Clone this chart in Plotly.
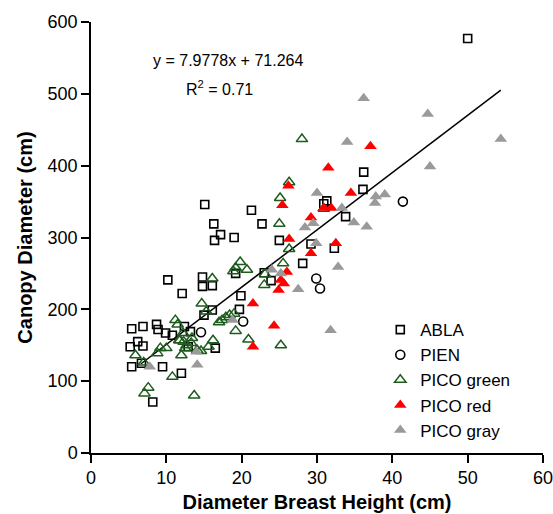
import plotly.graph_objects as go

# values
abla_x = [50.0, 36.2, 36.1, 30.9, 31.3, 33.8, 32.3, 29.2, 28.1, 25.0, 23.9, 23.0, 22.7, 21.3,
          19.9, 19.7, 19.0, 19.2, 17.2, 16.4, 16.3, 15.1, 14.8, 14.8, 16.1, 16.1, 15.0, 16.5,
          12.1, 10.2, 12.4, 13.2, 12.9, 10.8, 9.9, 8.7, 8.9, 6.9, 5.4, 6.2, 6.9, 5.2, 5.4,
          9.5, 6.7, 12.0, 8.2]
abla_y = [577, 391, 367, 347, 351, 329, 285, 291, 264, 296, 240, 251, 319, 338,
          219, 200, 300, 250, 304, 296, 319, 346, 245, 232, 233, 199, 192, 146,
          222, 241, 176, 169, 148, 164, 167, 179, 172, 176, 173, 155, 149, 148, 120,
          120, 125, 111, 71]

pien_x = [14.6, 20.2, 29.9, 30.4, 41.4]
pien_y = [168, 183, 243, 229, 350]

green_x = [28.0, 26.3, 25.1, 25.0, 26.3, 25.5, 30.9, 25.2, 20.9, 19.2, 19.8, 20.7, 19.2, 18.9,
           23.0, 23.1, 16.1, 14.7, 15.3, 17.0, 17.4, 17.9, 18.4, 19.0, 16.2, 15.6, 13.7, 11.2,
           11.5, 11.7, 12.2, 12.3, 12.7, 12.0, 13.4, 13.3, 14.1, 14.6, 10.8, 10.0, 9.2, 8.8,
           5.9, 7.0, 7.6, 7.1, 12.5, 11.8]
green_y = [437, 377, 355, 319, 284, 264, 340, 150, 158, 170, 266, 255, 258, 253,
           234, 249, 243, 208, 197, 182, 185, 189, 192, 194, 157, 148, 80, 185,
           179, 157, 167, 155, 150, 136, 160, 153, 143, 142, 106, 146, 146, 139,
           136, 126, 91, 83, 146, 157]

red_x = [37.1, 31.5, 34.5, 26.2, 25.4, 30.9, 31.9, 29.2, 26.3, 32.5, 29.2, 26.0, 25.2, 25.6,
         24.9, 21.5, 24.3, 21.5]
red_y = [427, 397, 362, 372, 345, 341, 341, 328, 298, 292, 278, 252, 241, 236,
         227, 208, 177, 148]

gray_x = [36.2, 44.7, 54.4, 34.0, 45.0, 30.0, 39.0, 37.8, 37.7, 33.3, 34.9, 36.6, 28.4, 29.5,
          29.9, 32.8, 27.5, 24.0, 25.2, 31.8, 18.8, 14.0, 14.1, 7.8]
gray_y = [494, 472, 437, 433, 399, 362, 360, 357, 348, 341, 321, 315, 314, 320,
          292, 259, 228, 255, 250, 171, 185, 141, 123, 120]

slope, intercept = 7.9778, 71.264
fit_x = [6.6, 54.4]
fit_y = [slope * v + intercept for v in fit_x]

green = '#1d5c1d'
font = 'Liberation Sans, Arial, sans-serif'

fig = go.Figure()
fig.add_trace(go.Scatter(x=fit_x, y=fit_y, mode='lines', line=dict(color='black', width=1.5),
                         showlegend=False, hoverinfo='skip'))
fig.add_trace(go.Scatter(x=abla_x, y=abla_y, mode='markers', name='ABLA',
                         marker=dict(symbol='square-open', size=8, color='black', line=dict(width=1.6))))
fig.add_trace(go.Scatter(x=pien_x, y=pien_y, mode='markers', name='PIEN',
                         marker=dict(symbol='circle-open', size=9, color='black', line=dict(width=1.6))))
fig.add_trace(go.Scatter(x=green_x, y=green_y, mode='markers', name='PICO green',
                         marker=dict(symbol='triangle-up-open', size=10, color=green, line=dict(width=1.5))))
fig.add_trace(go.Scatter(x=red_x, y=red_y, mode='markers', name='PICO red',
                         marker=dict(symbol='triangle-up', size=11, color='#ff0000', line=dict(width=0))))
fig.add_trace(go.Scatter(x=gray_x, y=gray_y, mode='markers', name='PICO gray',
                         marker=dict(symbol='triangle-up', size=11, color='#9a9a9a', line=dict(width=0))))

fig.add_annotation(x=18.2, y=547, text='y = 7.9778x + 71.264', showarrow=False,
                   font=dict(size=16, color='black', family=font))
fig.add_annotation(x=17.1, y=508, text='R<sup>2</sup> = 0.71', showarrow=False,
                   font=dict(size=16, color='black', family=font))

fig.update_layout(
    width=553, height=514,
    margin=dict(l=91, r=10, t=22, b=61),
    paper_bgcolor='white', plot_bgcolor='white',
    font=dict(family=font, color='black', size=18),
    legend=dict(x=0.64, y=0.327, xanchor='left', yanchor='top', bgcolor='rgba(0,0,0,0)',
                font=dict(size=17), tracegroupgap=0, itemwidth=30),
    xaxis=dict(range=[0, 60], dtick=10, showgrid=False, zeroline=False, showline=True,
               linecolor='black', linewidth=1.5, ticks='outside', ticklen=8, tickwidth=1.5,
               tickcolor='black', automargin=False, ticklabeloverflow='allow',
               title=dict(text='<b>Diameter Breast Height (cm)</b>', font=dict(size=20), standoff=8)),
    yaxis=dict(range=[0, 600], dtick=100, showgrid=False, zeroline=False, showline=True,
               linecolor='black', linewidth=1.5, ticks='outside', ticklen=8, tickwidth=1.5,
               tickcolor='black', automargin=False, ticklabeloverflow='allow',
               title=dict(text='<b>Canopy Diameter (cm)</b>', font=dict(size=20), standoff=10)),
)

# drop the default page margin so the figure fills the window exactly
fig.write_html("out.html", config={'displayModeBar': False},
               post_script="document.body.style.margin='0';document.body.style.overflow='hidden';")
